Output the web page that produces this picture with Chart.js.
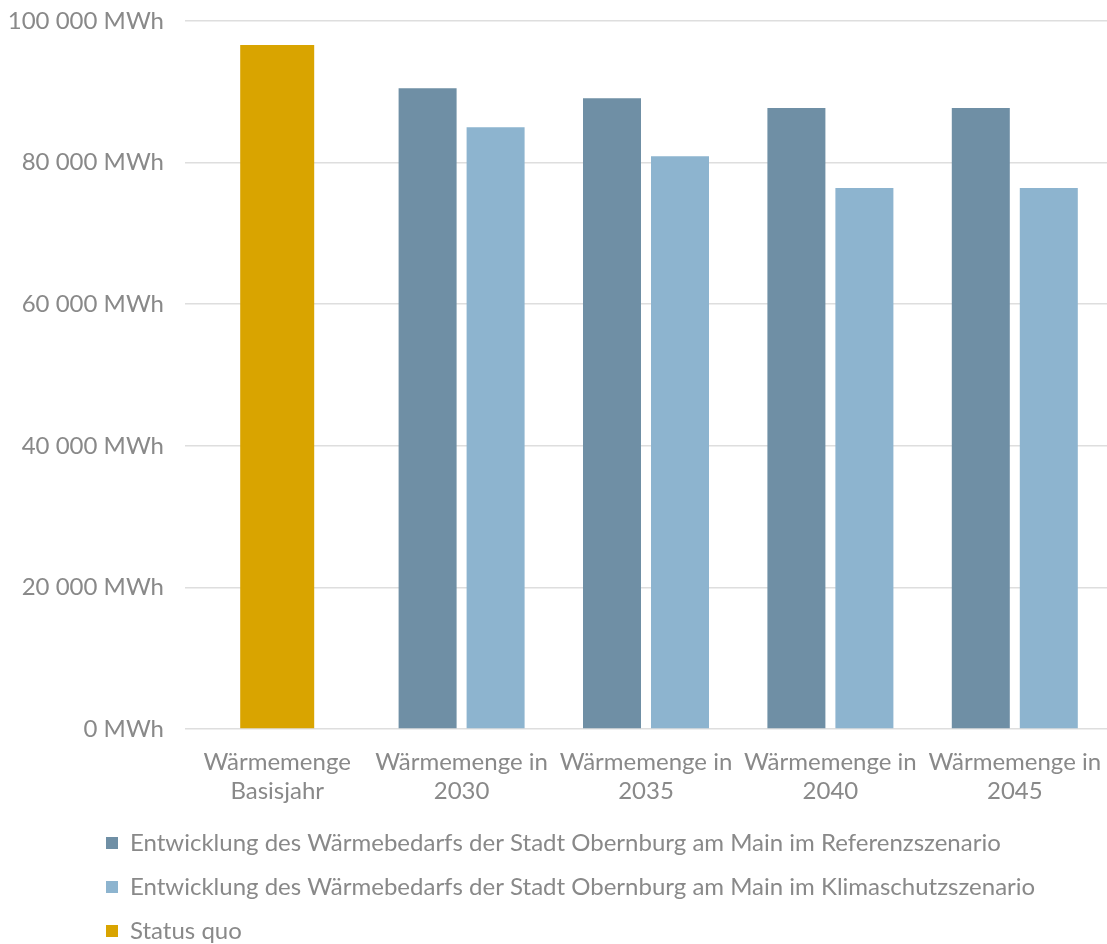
<!DOCTYPE html>
<html lang="de">
<head>
<meta charset="utf-8">
<script src="https://cdn.jsdelivr.net/npm/chart.js@4"></script>
<style>
    html, body { margin: 0; padding: 0; background: #fff; overflow: hidden; }
    #wrap { width: 1107px; height: 944px; position: relative; }
</style>
</head>
<body>
<div id="wrap"><canvas id="heatChart"></canvas></div>
<script>
const categories = [
    ['Wärmemenge', 'Basisjahr'],
    ['Wärmemenge in', '2030'],
    ['Wärmemenge in', '2035'],
    ['Wärmemenge in', '2040'],
    ['Wärmemenge in', '2045']
];
const referenzValues = [null, 90500, 89100, 87700, 87700];
const klimaValues = [null, 85000, 80900, 76400, 76400];
const statusQuoValues = [96600, null, null, null, null];
const yTicks = [0, 20000, 40000, 60000, 80000, 100000];

const seriesNames = [
    'Entwicklung des Wärmebedarfs der Stadt Obernburg am Main im Referenzszenario',
    'Entwicklung des Wärmebedarfs der Stadt Obernburg am Main im Klimaschutzszenario',
    'Status quo'
];

const textGrey = '#898989';

function formatMWh(v) {
    return String(v).replace(/\B(?=(\d{3})+(?!\d))/g, ' ') + ' MWh';
}

// moves the legend to where the reference puts it
const legendShift = {
    id: 'legendShift',
    afterLayout(chart) {
        const lg = chart.legend;
        if (!lg) return;
        const h = lg.bottom - lg.top;
        lg.left = 86;
        lg.top = 811;
        lg.bottom = lg.top + h;
    }
};

document.addEventListener('DOMContentLoaded', () => {
    const ctx = document.getElementById('heatChart').getContext('2d');

    new Chart(ctx, {
        type: 'bar',
        data: {
            labels: categories,
            datasets: [{
                label: seriesNames[0],
                data: referenzValues,
                backgroundColor: '#6F8FA5',
            }, {
                label: seriesNames[1],
                data: klimaValues,
                backgroundColor: '#8DB4CF',
            }, {
                label: seriesNames[2],
                data: statusQuoValues,
                backgroundColor: '#D9A400',
                maxBarThickness: 74,
            }]
        },
        options: {
            responsive: true,
            maintainAspectRatio: false,
            animation: false,
            skipNull: true,
            categoryPercentage: 0.7375,
            barPercentage: 0.853,
            layout: { padding: { top: 21, right: 0, bottom: 0, left: 0 } },
            scales: {
                x: {
                    grid: { display: false, drawTicks: true, tickLength: 19 },
                    border: { display: false },
                    ticks: {
                        color: textGrey,
                        font: { family: 'Lato', size: 24 },
                        padding: 0,
                        maxRotation: 0,
                        autoSkip: false
                    },
                    afterFit(scale) { scale.height = 80; }
                },
                y: {
                    min: 0,
                    max: 100000,
                    afterBuildTicks(scale) {
                        scale.ticks = yTicks.map(v => ({ value: v }));
                    },
                    grid: {
                        color: '#dedede',
                        lineWidth: 1.5,
                        drawTicks: true,
                        tickLength: 21,
                        tickColor: 'rgba(0,0,0,0)'
                    },
                    border: { display: false },
                    ticks: {
                        color: textGrey,
                        font: { family: 'Lato', size: 24 },
                        padding: 0,
                        callback: v => formatMWh(v)
                    },
                    afterFit(scale) { scale.width = 185; }
                }
            },
            plugins: {
                legend: {
                    position: 'bottom',
                    align: 'start',
                    maxHeight: 135,
                    labels: {
                        color: textGrey,
                        font: { family: 'Lato', size: 24 },
                        boxWidth: 12,
                        boxHeight: 12,
                        padding: 20
                    }
                },
                tooltip: { enabled: false }
            }
        },
        plugins: [legendShift]
    });
});
</script>
</body>
</html>
